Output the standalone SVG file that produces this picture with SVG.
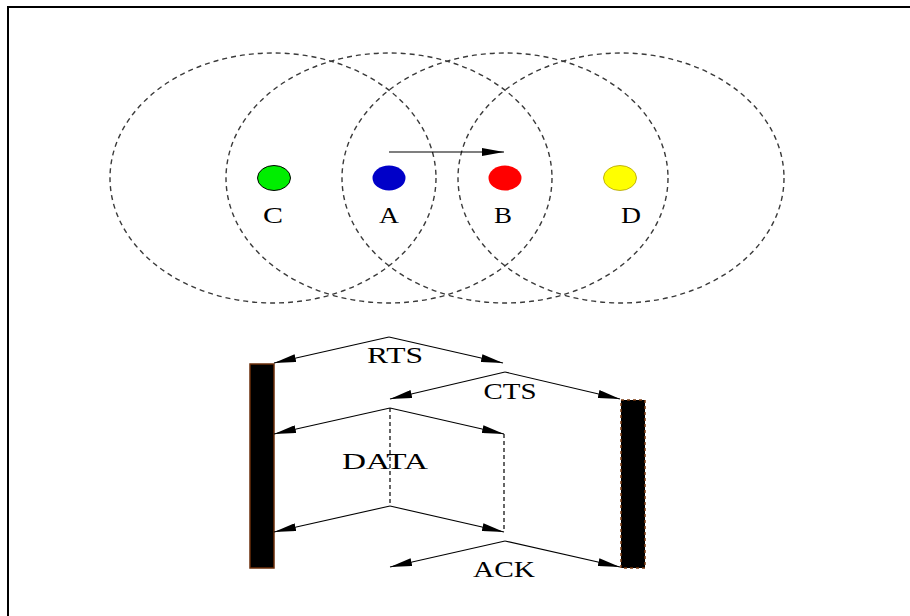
<svg xmlns="http://www.w3.org/2000/svg" width="910" height="616" viewBox="0 0 910 616">
  <style>
    .range { fill: none; stroke: #3a3a3a; stroke-width: 1.4; stroke-dasharray: 5 4; }
    .lbl { font-family: "Liberation Serif", "Times New Roman", serif; font-size: 23px; fill: #000; text-anchor: middle; }
    .msg { fill: none; stroke: #000; stroke-width: 1.1; marker-end: url(#head); }
    .gap { fill: none; stroke: #000; stroke-width: 1.2; stroke-dasharray: 4 3; }
    .bar { fill: #000; stroke: #6b2e0a; stroke-width: 1.5; }
  </style>
  <defs>
    <marker id="head" viewBox="0 0 22 8" refX="22" refY="4" markerWidth="22" markerHeight="8" markerUnits="userSpaceOnUse" orient="auto">
      <path d="M0,0 L22,4 L0,8 Z" fill="#000"/>
    </marker>
  </defs>
  <rect width="910" height="616" fill="#fff"/>
  <!-- frame: only top and left edges lie inside the canvas -->
  <rect x="8" y="7" width="920" height="630" fill="none" stroke="#000" stroke-width="2"/>

  <!-- transmission ranges -->
  <g id="ranges">
    <ellipse class="range" cx="273" cy="178" rx="163" ry="125"/>
    <ellipse class="range" cx="389" cy="178" rx="163" ry="125"/>
    <ellipse class="range" cx="505" cy="178" rx="163" ry="125"/>
    <ellipse class="range" cx="621" cy="178" rx="163" ry="125"/>
  </g>

  <g id="node-C">
    <ellipse cx="274" cy="178" rx="16.5" ry="12.5" fill="#00ee00" stroke="#000" stroke-width="1"/>
    <text class="lbl" x="273" y="223" textLength="20" lengthAdjust="spacingAndGlyphs">C</text>
  </g>
  <g id="node-A">
    <ellipse cx="389" cy="178" rx="16.5" ry="12.5" fill="#0000c8"/>
    <text class="lbl" x="389" y="223" textLength="20" lengthAdjust="spacingAndGlyphs">A</text>
  </g>
  <g id="node-B">
    <ellipse cx="505" cy="178" rx="16.5" ry="12.5" fill="#ff0000"/>
    <text class="lbl" x="503" y="223" textLength="18" lengthAdjust="spacingAndGlyphs">B</text>
  </g>
  <g id="node-D">
    <ellipse cx="620" cy="178" rx="16.5" ry="12.5" fill="#ffff00" stroke="#b0a000" stroke-width="0.8"/>
    <text class="lbl" x="631" y="223" textLength="20" lengthAdjust="spacingAndGlyphs">D</text>
  </g>

  <g id="direction">
    <line class="msg" x1="389" y1="152" x2="504" y2="152" stroke-width="1.5"/>
  </g>

  <!-- busy periods of A and B -->
  <g id="bar-A">
    <rect class="bar" x="250" y="364" width="24" height="204"/>
  </g>
  <g id="bar-B">
    <rect x="621" y="400" width="24" height="168" fill="#000"/>
    <rect x="621" y="400" width="24" height="168" fill="none" stroke="#7a3a10" stroke-width="1.5" stroke-dasharray="3 3"/>
  </g>

  <g id="connectors">
    <!-- RTS -->
    <polyline class="msg" points="389,337 274,363"/>
    <polyline class="msg" points="389,337 503,363"/>
    <!-- CTS -->
    <polyline class="msg" points="505,372 390,399"/>
    <polyline class="msg" points="505,372 620,399"/>
    <!-- DATA -->
    <polyline class="msg" points="390,408 274,434"/>
    <polyline class="msg" points="390,408 504,434"/>
    <line class="gap" x1="390" y1="408" x2="390" y2="506"/>
    <line class="gap" x1="504" y1="434" x2="504" y2="532"/>
    <polyline class="msg" points="390,506 274,532"/>
    <polyline class="msg" points="390,506 504,532"/>
    <!-- ACK -->
    <polyline class="msg" points="505,541 390,567"/>
    <polyline class="msg" points="505,541 620,567"/>
  </g>

  <g id="labels">
    <text class="lbl" x="395" y="363" textLength="56" lengthAdjust="spacingAndGlyphs">RTS</text>
    <text class="lbl" x="510" y="399" textLength="53" lengthAdjust="spacingAndGlyphs">CTS</text>
    <text class="lbl" x="385" y="469" textLength="86" lengthAdjust="spacingAndGlyphs">DATA</text>
    <text class="lbl" x="504" y="577" textLength="62" lengthAdjust="spacingAndGlyphs">ACK</text>
  </g>
</svg>
